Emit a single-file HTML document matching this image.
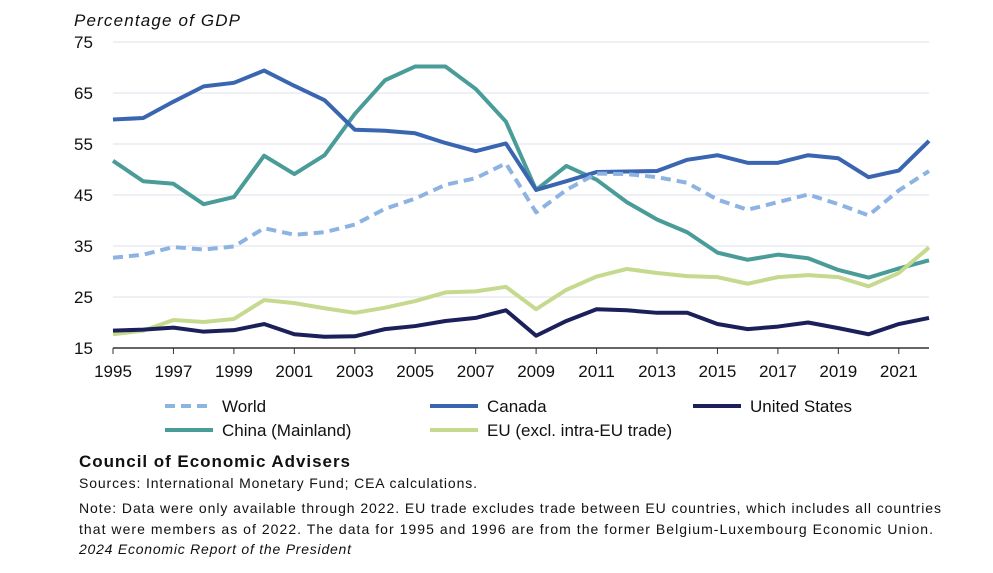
<!DOCTYPE html>
<html><head><meta charset="utf-8"><style>
body{margin:0;background:#fff;width:993px;height:568px;overflow:hidden;font-family:"Liberation Sans",sans-serif;}
svg text{font-family:"Liberation Sans",sans-serif;fill:#111;}
</style></head><body>
<svg id="chart" width="993" height="568">
<text x="74" y="26" font-size="17" font-style="italic" textLength="166">Percentage of GDP</text>
<g id="grid"></g><g id="lines"></g><g id="axes"></g>
<g id="legend"></g>
<text x="79" y="467" font-size="17" font-weight="bold" textLength="271">Council of Economic Advisers</text>
<text x="79" y="488" font-size="14" textLength="398">Sources: International Monetary Fund; CEA calculations.</text>
<text x="79" y="513" font-size="14" textLength="862">Note: Data were only available through 2022. EU trade excludes trade between EU countries, which includes all countries</text>
<text x="79" y="534" font-size="14" textLength="854">that were members as of 2022. The data for 1995 and 1996 are from the former Belgium-Luxembourg Economic Union.</text>
<text x="79" y="554" font-size="14" font-style="italic" textLength="272">2024 Economic Report of the President</text>
</svg>
<script>
const years=[1995,1996,1997,1998,1999,2000,2001,2002,2003,2004,2005,2006,2007,2008,2009,2010,2011,2012,2013,2014,2015,2016,2017,2018,2019,2020,2021,2022];
const yTicks=[15,25,35,45,55,65,75];
const xTicks=[1995,1997,1999,2001,2003,2005,2007,2009,2011,2013,2015,2017,2019,2021];
const canada=[59.8,60.1,63.3,66.3,67,69.4,66.4,63.6,57.8,57.6,57.1,55.2,53.6,55.1,46,47.7,49.5,49.6,49.7,51.9,52.8,51.3,51.3,52.8,52.2,48.5,49.8,55.6];
const china=[51.7,47.7,47.2,43.2,44.6,52.7,49.1,52.8,60.9,67.5,70.2,70.2,65.8,59.4,46,50.7,48,43.6,40.2,37.7,33.7,32.3,33.3,32.6,30.3,28.8,30.6,32.2];
const world=[32.7,33.3,34.8,34.3,34.9,38.5,37.2,37.7,39.2,42.3,44.3,47,48.3,51.2,41.6,46,49.2,49.1,48.5,47.4,44.1,42.1,43.6,45.1,43.2,41,45.9,49.7];
const us=[18.4,18.6,19,18.2,18.5,19.7,17.7,17.2,17.3,18.7,19.3,20.3,20.9,22.4,17.4,20.3,22.6,22.4,21.9,21.9,19.7,18.7,19.2,20,18.9,17.7,19.7,20.9];
const eu=[17.7,18.4,20.5,20.1,20.7,24.4,23.8,22.8,21.9,22.9,24.2,25.9,26.1,27,22.6,26.4,29,30.5,29.7,29.1,28.9,27.6,28.9,29.3,28.9,27.1,29.7,34.7];
const NS='http://www.w3.org/2000/svg';
const X=y=>113+(y-1995)*(929-113)/27;
const Y=v=>348-(v-15)*(348-42)/60;
function mk(t,a,p){const e=document.createElementNS(NS,t);for(const k in a)e.setAttribute(k,a[k]);p.appendChild(e);return e;}
const grid=document.getElementById('grid'),axes=document.getElementById('axes'),lines=document.getElementById('lines'),leg=document.getElementById('legend');
yTicks.forEach(v=>{
 if(v>15){const l=mk('line',{x1:113,x2:929,y1:Y(v),y2:Y(v),stroke:'#dde1ee','stroke-width':1},grid);
 
 }
 const t=mk('text',{x:74,y:Y(v)+6,'font-size':17},axes);t.textContent=v;
 
 
});
const ax=mk('line',{x1:113,x2:929,y1:348,y2:348,stroke:'#333','stroke-width':1.5},axes);


xTicks.forEach(y=>{
 mk('line',{x1:X(y),x2:X(y),y1:348,y2:354,stroke:'#333'},axes);
 const t=mk('text',{x:X(y),y:377,'font-size':17,'text-anchor':'middle'},axes);t.textContent=y;
 
 
});
const series=[
 {n:'World',d:world,c:'#8db3e2',dash:'10 6',lx:165,ly:406},
 {n:'Canada',d:canada,c:'#3a65b0',lx:430,ly:406},
 {n:'United States',d:us,c:'#1b1f5a',lx:693,ly:406},
 {n:'China (Mainland)',d:china,c:'#4a9c98',lx:165,ly:430},
 {n:'EU (excl. intra-EU trade)',d:eu,c:'#c5da8f',lx:430,ly:430}];
const order=[3,1,0,4,2];
order.forEach(i=>{const s=series[i];
 const p=mk('polyline',{points:s.d.map((v,j)=>X(years[j])+','+Y(v)).join(' '),fill:'none',stroke:s.c,'stroke-width':4,'stroke-linejoin':'round','stroke-dasharray':s.dash||'none'},lines);
 
 
});
series.forEach(s=>{
 const l=mk('line',{x1:s.lx,x2:s.lx+48,y1:s.ly,y2:s.ly,stroke:s.c,'stroke-width':4,'stroke-dasharray':s.dash||'none'},leg);
 
 
 const t=mk('text',{x:s.lx+57,y:s.ly+6,'font-size':17},leg);t.textContent=s.n;
 
 
});
</script>
</body></html>
